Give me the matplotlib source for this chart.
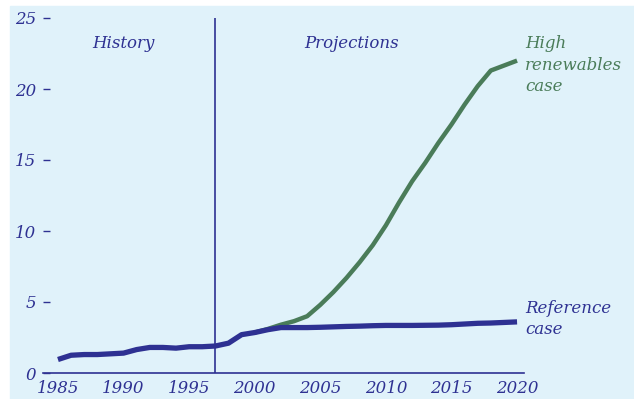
import matplotlib.pyplot as plt

years_ref = list(range(1985, 2021))
reference = [0.95, 1.25, 1.3, 1.3, 1.35, 1.4, 1.65, 1.8, 1.8, 1.75, 1.85, 1.85,
             1.9, 2.1, 2.7, 2.85, 3.05, 3.2, 3.2, 3.2, 3.22, 3.25, 3.28, 3.3,
             3.33, 3.35, 3.35, 3.35, 3.36, 3.37, 3.4, 3.45, 3.5, 3.52, 3.56, 3.6]

years_high = list(range(2000, 2021))
high = [2.85, 3.1, 3.4, 3.65, 4.0, 4.8, 5.7, 6.7, 7.8, 9.0, 10.4, 12.0, 13.5,
        14.8, 16.2, 17.5, 18.9, 20.2, 21.3, 21.65, 22.0]

xticks = [1985, 1990, 1995, 2000, 2005, 2010, 2015, 2020]
yticks = [0, 5, 10, 15, 20, 25]

blue = '#2e3192'
green = '#4a7c59'
bg = '#e0f2fa'

plt.rcParams['font.family'] = 'DejaVu Serif'
plt.rcParams['font.style'] = 'italic'

fig = plt.figure(figsize=(6.34, 3.99), dpi=100)
fig.patches.append(plt.Rectangle((10/634, 0), 1, 393/399, transform=fig.transFigure,
                                 color=bg, zorder=-10))
ax = fig.add_axes([43/634, 26/399, 481/634, 355/399])
ax.set_facecolor('none')

ax.plot(years_high, high, color=green, lw=3.2, solid_capstyle='butt', zorder=3)
ax.plot(years_ref, reference, color=blue, lw=3.8, solid_capstyle='butt', zorder=4)
ax.axvline(1997, ymax=1.0, color=blue, lw=1.2)

ax.set_xlim(1983.86, 2020.53)
ax.set_ylim(0, 25)
ax.set_xticks(xticks)
ax.set_yticks(yticks)
for s in ['left', 'right', 'top']:
    ax.spines[s].set_visible(False)
ax.spines['bottom'].set_color(blue)
ax.spines['bottom'].set_linewidth(1.2)
ax.tick_params(axis='y', direction='in', length=5, width=1, color=blue,
               labelcolor=blue, labelsize=12, pad=5)
ax.tick_params(axis='x', length=0, labelcolor=blue, labelsize=12, pad=5)

ax.text(1990, 23.2, 'History', color=blue, fontsize=12, ha='center', va='center')
ax.text(2007.4, 23.2, 'Projections', color=blue, fontsize=12, ha='center', va='center')
ax.text(2020.6, 23.8, 'High\nrenewables\ncase', color=green, fontsize=12,
        ha='left', va='top', linespacing=1.35, clip_on=False)
ax.text(2020.6, 5.15, 'Reference\ncase', color=blue, fontsize=12,
        ha='left', va='top', linespacing=1.35, clip_on=False)

fig.savefig('out.png', dpi=100)
